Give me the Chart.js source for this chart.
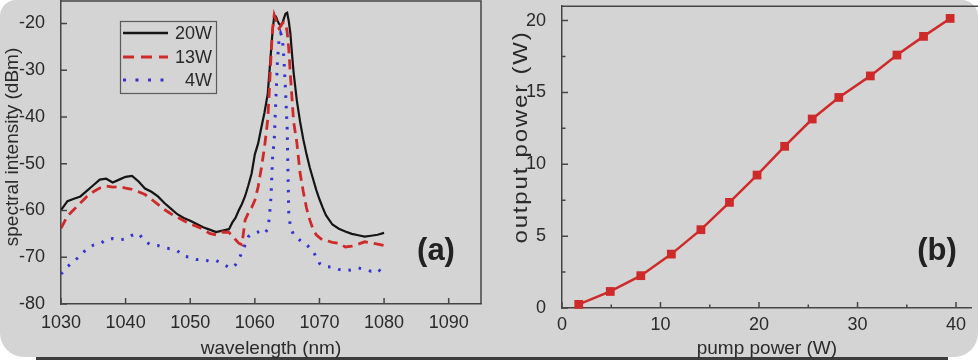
<!DOCTYPE html>
<html><head><meta charset="utf-8">
<script src="https://cdn.jsdelivr.net/npm/chart.js@4.4.1/dist/chart.umd.min.js"></script>
<style>
html,body{margin:0;padding:0;background:#fff;width:978px;height:360px;overflow:hidden;}
#card{position:absolute;left:0;top:0;width:978px;height:357px;background:#d4d4d4;border-radius:16px 16px 24px 24px;}
#bar{position:absolute;left:36px;top:357px;width:912px;height:3px;background:#3c3c3c;}
canvas{position:absolute;top:0;}
</style></head><body>
<div id="card"></div><div id="bar"></div>
<canvas id="ca" width="490" height="360" style="left:0"></canvas>
<canvas id="cb" width="488" height="360" style="left:490px"></canvas>
<script>
// ---------- panel (a) data ----------
const wavelength = [1030,1031,1032,1033,1034,1035,1036,1037,1038,1039,1040,1041,1042,1043,1044,1045,1046,1047,1048,1049,1050,1051,1052,1053,1054,1055,1056,
  1056.5,1057,1057.5,1058,1058.5,1059,1059.5,1060,1060.5,1061,1061.5,1062,
  1062.25,1062.5,1062.75,1063,1063.25,1063.5,1063.75,1064,1064.25,1064.5,1064.75,1065,1065.25,1065.5,1065.75,1066,
  1066.5,1067,1067.5,1068,1068.5,1069,1069.5,1070,1070.5,1071,
  1072,1073,1074,1075,1076,1077,1078,1079,1080];
const spec20W = [-59.9,-58.0,-57.5,-57.0,-55.8,-54.6,-53.4,-53.2,-54.0,-53.4,-52.8,-52.6,-53.8,-55.3,-56.0,-57.0,-58.4,-59.6,-60.8,-61.6,-62.2,-62.9,-63.6,-64.1,-64.6,-64.3,-64.0,
  -62.6,-61.6,-60.0,-58.6,-56.9,-54.6,-52.1,-48.0,-45.7,-42.3,-39.0,-35.0,
  -30.5,-26.0,-21.6,-18.4,-18.5,-19.4,-20.1,-20.4,-20.0,-18.9,-17.9,-17.7,-19.5,-22.1,-26.5,-30.5,
  -36.5,-41.0,-44.8,-48.0,-50.8,-53.2,-55.6,-57.6,-59.4,-61.0,
  -63.0,-63.9,-64.5,-65.0,-65.3,-65.6,-65.4,-65.2,-64.8];
const spec13W = [-63.8,-61.2,-59.8,-58.4,-57.0,-56.0,-55.2,-54.8,-55.0,-54.9,-55.2,-55.5,-56.0,-56.6,-57.6,-58.7,-59.8,-60.7,-61.4,-62.2,-62.9,-63.4,-64.0,-64.9,-65.2,-64.6,-64.7,
  -65.4,-66.2,-67.0,-67.3,-62.0,-60.5,-59.4,-57.8,-55.0,-51.0,-46.4,-40.5,
  -34.0,-27.0,-21.0,-18.2,-19.2,-20.4,-21.1,-20.6,-20.0,-19.7,-20.0,-21.8,-25.5,-31.0,-36.0,-41.0,
  -45.5,-52.0,-56.0,-59.5,-62.0,-64.0,-65.2,-65.8,-66.3,-66.4,
  -66.8,-67.0,-67.8,-67.6,-67.2,-66.7,-66.9,-67.2,-67.5];
const spec4W = [-73.6,-72.0,-70.9,-69.6,-68.2,-67.4,-67.2,-66.2,-66.0,-66.3,-66.1,-65.3,-64.9,-66.6,-67.4,-67.5,-68.0,-68.2,-68.6,-69.8,-70.0,-70.5,-70.4,-70.9,-70.7,-71.4,-72.2,
  -72.3,-71.6,-70.5,-69.0,-67.3,-65.6,-65.0,-64.8,-64.6,-64.4,-64.9,-64.0,
  -61.5,-57.0,-48.5,-45.0,-36.4,-28.0,-23.5,-22.1,-23.0,-27.5,-34.5,-42.5,-60.5,-63.5,-64.4,-65.2,
  -65.8,-66.4,-67.0,-67.3,-68.0,-68.6,-70.0,-71.3,-71.8,-72.0,
  -72.1,-72.6,-72.9,-72.7,-72.3,-72.6,-73.0,-72.5,-73.6];
const legendLabelsA = ['20W','13W','4W'];
const xTicksA = [1030,1040,1050,1060,1070,1080,1090];
const yTicksA = [-80,-70,-60,-50,-40,-30,-20];

// ---------- panel (b) data ----------
const pumpPower   = [1.7,4.9,8.0,11.1,14.1,17.0,19.8,22.6,25.4,28.1,31.3,34.0,36.7,39.4];
const outputPower = [0.25,1.15,2.25,3.75,5.45,7.35,9.25,11.25,13.15,14.65,16.15,17.6,18.9,20.15];
const xTicksB = [0,10,20,30,40];
const yTicksB = [0,5,10,15,20];
const xMinorB = [5,15,25,35];
const yMinorB = [2.5,7.5,12.5,17.5];

const FONT = "'Liberation Sans', Arial, sans-serif";
const TXT = '#2a2a2a';
const AX = '#454545';
const BLACK = '#151515', RED = '#cf2a2a', BLUE = '#3434d2';

function pts(xs, ys){ return xs.map((x,i)=>({x:x, y:ys[i]})); }

function tickPlugin(xMajor, yMajor, xMinor, yMinor, box, extra){
  return {
    id:'frame',
    afterDraw(chart){
      const {ctx, chartArea:a, scales} = chart;
      ctx.save();
      ctx.strokeStyle = AX; ctx.lineWidth = 1.5;
      ctx.beginPath();
      xMajor.forEach(v=>{const p=scales.x.getPixelForValue(v); ctx.moveTo(p,a.bottom); ctx.lineTo(p,a.bottom-6);});
      yMajor.forEach(v=>{const p=scales.y.getPixelForValue(v); ctx.moveTo(a.left,p); ctx.lineTo(a.left+6,p);});
      (xMinor||[]).forEach(v=>{const p=scales.x.getPixelForValue(v); ctx.moveTo(p,a.bottom); ctx.lineTo(p,a.bottom-3.5);});
      (yMinor||[]).forEach(v=>{const p=scales.y.getPixelForValue(v); ctx.moveTo(a.left,p); ctx.lineTo(a.left+3.5,p);});
      ctx.stroke();
      ctx.beginPath();
      if (box==='full'){ ctx.moveTo(a.left,a.top); ctx.lineTo(a.right,a.top); ctx.lineTo(a.right,a.bottom); }
      else { ctx.moveTo(a.left,a.top); ctx.lineTo(chart.width,a.top); }
      ctx.stroke();
      ctx.restore();
      if (extra) extra(chart);
    }
  };
}

function baseScales(xmin,xmax,ymin,ymax,xT,yT,yW,xH,xTitle,xPad){
  return {
    x:{type:'linear',min:xmin,max:xmax,
      afterBuildTicks:s=>{s.ticks=xT.map(v=>({value:v}));},
      afterFit:s=>{s.height=xH; s.paddingLeft=0; s.paddingRight=0;},
      grid:{display:false},
      border:{display:true,color:AX,width:1.5},
      ticks:{autoSkip:false,maxRotation:0,padding:xPad,color:TXT,font:{family:FONT,size:18},callback:v=>String(v)},
      title:{display:true,text:xTitle,color:TXT,font:{family:FONT,size:19},padding:{top:0,bottom:0}}
    },
    y:{type:'linear',min:ymin,max:ymax,
      afterBuildTicks:s=>{s.ticks=yT.map(v=>({value:v}));},
      afterFit:s=>{s.width=yW; s.paddingTop=0; s.paddingBottom=0;},
      grid:{display:false},
      border:{display:true,color:AX,width:1.5},
      ticks:{autoSkip:false,padding:8,color:TXT,font:{family:FONT,size:18},callback:v=>String(v)}
    }
  };
}

// ---------- chart (a) ----------
new Chart(document.getElementById('ca'),{
  type:'line',
  data:{datasets:[
    {label:legendLabelsA[2],data:pts(wavelength,spec4W),borderColor:BLUE,borderWidth:3,borderDash:[2.5,8],pointRadius:0,tension:0,order:0},
    {label:legendLabelsA[1],data:pts(wavelength,spec13W),borderColor:RED,borderWidth:2.8,borderDash:[10,6],pointRadius:0,tension:0,order:1},
    {label:legendLabelsA[0],data:pts(wavelength,spec20W),borderColor:BLACK,borderWidth:2.2,pointRadius:0,tension:0,order:2}
  ]},
  options:{
    responsive:false,animation:false,
    layout:{padding:{left:0,right:9,top:1,bottom:0}},
    plugins:{legend:{display:false},tooltip:{enabled:false}},
    scales:baseScales(1030,1095,-80,-15.2,xTicksA,yTicksA,61,56,'wavelength (nm)',0)
  },
  plugins:[tickPlugin(xTicksA,yTicksA,null,null,'full',chart=>{
    const ctx=chart.ctx;
    ctx.save();
    ctx.strokeStyle='#5a5a5a'; ctx.lineWidth=1.2;
    ctx.strokeRect(120.5,21.5,96,72);
    const rows=[{y:33,c:BLACK,w:2.4,d:[]},{y:57,c:RED,w:3,d:[11,7]},{y:80,c:BLUE,w:3,d:[3,9.5]}];
    rows.forEach((r,i)=>{
      ctx.beginPath(); ctx.strokeStyle=r.c; ctx.lineWidth=r.w; ctx.setLineDash(r.d);
      ctx.moveTo(123,r.y); ctx.lineTo(168,r.y); ctx.stroke();
      ctx.setLineDash([]);
      ctx.fillStyle=TXT; ctx.font='18px '+FONT; ctx.textAlign='right'; ctx.textBaseline='middle';
      ctx.fillText(legendLabelsA[i],212,r.y+1);
    });
    ctx.font='bold 31px '+FONT; ctx.textAlign='center'; ctx.textBaseline='middle'; ctx.fillStyle='#222';
    ctx.fillText('(a)',436,251);
    ctx.translate(13,147); ctx.rotate(-Math.PI/2);
    ctx.font='19px '+FONT; ctx.fillStyle=TXT;
    ctx.fillText('spectral intensity (dBm)',0,0);
    ctx.restore();
  })]
});

// ---------- chart (b) ----------
new Chart(document.getElementById('cb'),{
  type:'line',
  data:{datasets:[
    {label:'output power',data:pts(pumpPower,outputPower),borderColor:RED,backgroundColor:RED,borderWidth:2.5,
     pointStyle:'rect',pointRadius:6.2,pointBorderWidth:0,tension:0,clip:false}
  ]},
  options:{
    responsive:false,animation:false,
    layout:{padding:{left:0,right:1,top:1,bottom:0}},
    plugins:{legend:{display:false},tooltip:{enabled:false}},
    scales:baseScales(0,41.6,0,21,xTicksB,yTicksB,72,52,'pump power (W)',-2)
  },
  plugins:[tickPlugin(xTicksB,yTicksB,xMinorB,yMinorB,'open',chart=>{
    const ctx=chart.ctx;
    ctx.save();
    ctx.font='bold 31px '+FONT; ctx.textAlign='center'; ctx.textBaseline='middle'; ctx.fillStyle='#222';
    ctx.fillText('(b)',447,251);
    ctx.translate(31,137); ctx.rotate(-Math.PI/2); ctx.scale(1.2,1);
    ctx.font='20px '+FONT; ctx.fillStyle=TXT;
    if ('letterSpacing' in ctx) ctx.letterSpacing='1.5px';
    ctx.fillText('output power (W)',0,0);
    ctx.restore();
  })]
});
</script>
</body></html>
